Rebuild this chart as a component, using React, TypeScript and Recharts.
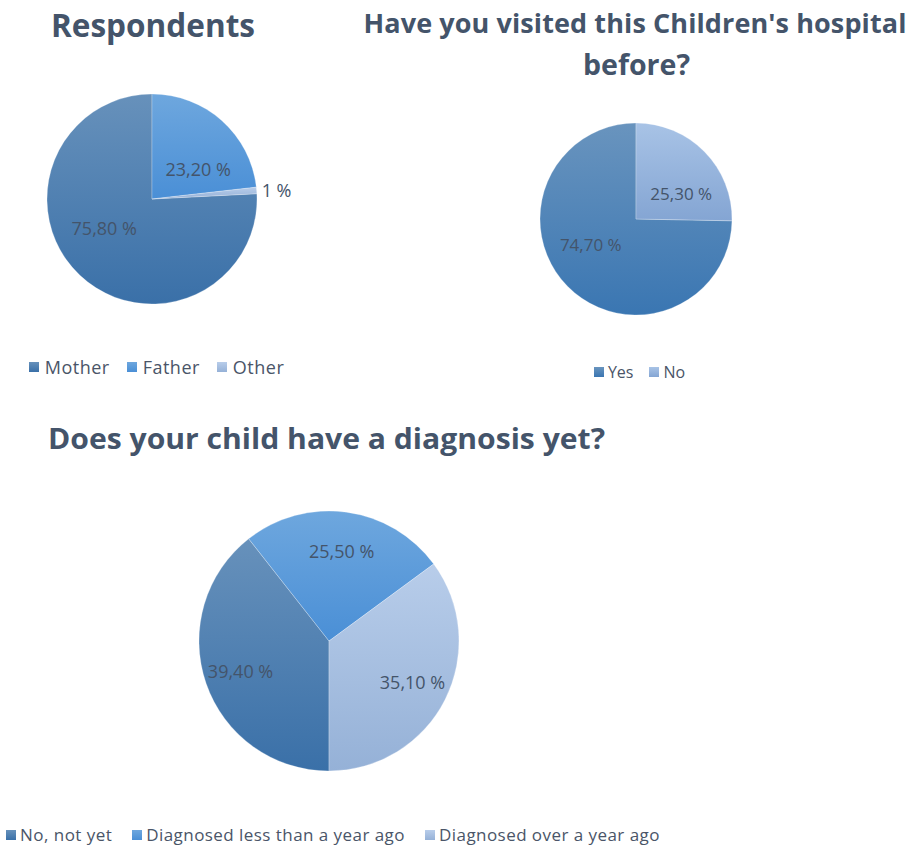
import { Cell, Legend, Pie, PieChart } from "recharts";

const RESPONDENT_NAMES = ["Mother", "Father", "Other"];
const RESPONDENT_VALUES = [75.8, 23.2, 1];

const VISITED_NAMES = ["Yes", "No"];
const VISITED_VALUES = [74.7, 25.3];

const DIAGNOSIS_NAMES = ["No, not yet", "Diagnosed less than a year ago", "Diagnosed over a year ago"];
const DIAGNOSIS_VALUES = [39.4, 25.5, 35.1];

// [top, bottom] gradient stops, Excel "shade" look
const DARK = ["#6791bb", "#3a70a8"];
const MID = ["#6ea7de", "#4a8fd6"];
const LIGHT = ["#b8cdea", "#95b1d7"];
const VISIT_DARK = ["#6994be", "#3a76b2"];
const VISIT_LIGHT = ["#a8c3e6", "#84a5d3"];

const TEXT = "#44546a";
const FONT = "'Open Sans', 'DejaVu Sans', sans-serif";
const RADIAN = Math.PI / 180;

const fmt = (v: number) =>
  Number.isInteger(v) ? `${v} %` : `${v.toFixed(2).replace(".", ",")} %`;

const toRows = (names: string[], values: number[]) =>
  names.map((name, i) => ({ name, value: values[i] }));

function makeLabel(ratio: number, sx: number, sy: number, fontSize: number) {
  return (props: any) => {
    const { cx, cy, midAngle, outerRadius, value, percent } = props;
    const cos = Math.cos(-midAngle * RADIAN);
    const sin = Math.sin(-midAngle * RADIAN);
    if (percent < 0.05) {
      return (
        <text
          x={cx + (outerRadius + 5) * cos}
          y={cy + (outerRadius + 5) * sin}
          fill={TEXT}
          fontSize={fontSize}
          textAnchor="start"
          dominantBaseline="central"
        >
          {fmt(value)}
        </text>
      );
    }
    const r = outerRadius * ratio;
    return (
      <text
        x={cx + r * cos * sx}
        y={cy + r * sin * sy}
        fill={TEXT}
        fontSize={fontSize}
        textAnchor="middle"
        dominantBaseline="central"
      >
        {fmt(value)}
      </text>
    );
  };
}

function Gradients({ id, stops }: { id: string; stops: string[][] }) {
  return (
    <defs>
      {stops.map(([top, bottom], i) => (
        <linearGradient key={i} id={`${id}-${i}`} x1="0" y1="0" x2="0" y2="1">
          <stop offset="0%" stopColor={top} />
          <stop offset="100%" stopColor={bottom} />
        </linearGradient>
      ))}
    </defs>
  );
}

function SwatchLegend({
  names,
  stops,
  fontSize,
  gap,
  spacing = 0,
  swatchGap = 6,
}: {
  names: string[];
  stops: string[][];
  fontSize: number;
  gap: number;
  spacing?: number;
  swatchGap?: number;
}) {
  return (
    <div
      style={{
        display: "flex",
        justifyContent: "center",
        alignItems: "center",
        gap,
        lineHeight: "20px",
        fontSize,
        letterSpacing: spacing,
        color: "#4a5568",
        whiteSpace: "nowrap",
      }}
    >
      {names.map((name, i) => (
        <span key={name} style={{ display: "flex", alignItems: "center" }}>
          <span
            style={{
              width: 10,
              height: 10,
              marginRight: swatchGap,
              background: `linear-gradient(${stops[i][0]}, ${stops[i][1]})`,
            }}
          />
          {name}
        </span>
      ))}
    </div>
  );
}

export default function App() {
  return (
    <div
      style={{
        position: "absolute",
        left: 0,
        top: 0,
        width: 914,
        height: 848,
        background: "#fff",
        fontFamily: FONT,
      }}
    >
      <div style={{ position: "absolute", left: 0, top: 0 }}>
        <PieChart width={320} height={400} margin={{ top: 0, right: 0, bottom: 0, left: 0 }}>
          <Gradients id="resp" stops={[DARK, MID, LIGHT]} />
          <Pie
            data={toRows(RESPONDENT_NAMES, RESPONDENT_VALUES)}
            dataKey="value"
            nameKey="name"
            cx={152}
            cy={199}
            outerRadius={105}
            startAngle={90 - 87.12}
            endAngle={90 - 87.12 - 360}
            stroke="rgba(255,255,255,0.5)"
            strokeWidth={0.5}
            labelLine={false}
            label={makeLabel(0.55, 1.2, 0.7, 18)}
            isAnimationActive={false}
          >
            {RESPONDENT_NAMES.map((n, i) => (
              <Cell key={n} fill={`url(#resp-${i})`} />
            ))}
          </Pie>
          <Legend
            wrapperStyle={{ left: 0, top: 357, width: 313 }}
            content={() => (
              <SwatchLegend names={RESPONDENT_NAMES} stops={[DARK, MID, LIGHT]} fontSize={18} gap={17} spacing={0.5} />
            )}
          />
        </PieChart>
      </div>

      <div style={{ position: "absolute", left: 420, top: 0 }}>
        <PieChart width={494} height={400} margin={{ top: 0, right: 0, bottom: 0, left: 0 }}>
          <Gradients id="visit" stops={[VISIT_DARK, VISIT_LIGHT]} />
          <Pie
            data={toRows(VISITED_NAMES, VISITED_VALUES)}
            dataKey="value"
            nameKey="name"
            cx={216}
            cy={219}
            outerRadius={96}
            startAngle={90 - 91.08}
            endAngle={90 - 91.08 - 360}
            stroke="rgba(255,255,255,0.5)"
            strokeWidth={0.5}
            labelLine={false}
            label={makeLabel(0.55, 1.2, 0.7, 17)}
            isAnimationActive={false}
          >
            {VISITED_NAMES.map((n, i) => (
              <Cell key={n} fill={`url(#visit-${i})`} />
            ))}
          </Pie>
          <Legend
            wrapperStyle={{ left: 0, top: 362, width: 439 }}
            content={() => (
              <SwatchLegend names={VISITED_NAMES} stops={[VISIT_DARK, VISIT_LIGHT]} fontSize={16} gap={16} swatchGap={4} />
            )}
          />
        </PieChart>
      </div>

      <div style={{ position: "absolute", left: 0, top: 400 }}>
        <PieChart width={914} height={448} margin={{ top: 0, right: 0, bottom: 0, left: 0 }}>
          <Gradients id="diag" stops={[DARK, MID, LIGHT]} />
          <Pie
            data={toRows(DIAGNOSIS_NAMES, DIAGNOSIS_VALUES)}
            dataKey="value"
            nameKey="name"
            cx={329}
            cy={241}
            outerRadius={130}
            startAngle={-90}
            endAngle={-450}
            stroke="rgba(255,255,255,0.5)"
            strokeWidth={0.5}
            labelLine={false}
            label={makeLabel(0.72, 1, 0.97, 18)}
            isAnimationActive={false}
          >
            {DIAGNOSIS_NAMES.map((n, i) => (
              <Cell key={n} fill={`url(#diag-${i})`} />
            ))}
          </Pie>
          <Legend
            wrapperStyle={{ left: 0, top: 425, width: 666 }}
            content={() => (
              <SwatchLegend
                names={DIAGNOSIS_NAMES}
                stops={[DARK, MID, LIGHT]}
                fontSize={17}
                gap={20}
                spacing={0.45}
                swatchGap={4}
              />
            )}
          />
        </PieChart>
      </div>

      <svg
        width={914}
        height={848}
        style={{ position: "absolute", left: 0, top: 0, pointerEvents: "none" }}
        fontFamily={FONT}
        fontWeight={700}
        fill={TEXT}
      >
        <text x={153} y={37} fontSize={32} textAnchor="middle" textLength={204} lengthAdjust="spacingAndGlyphs">
          Respondents
        </text>
        <text x={635} y={33} fontSize={27} textAnchor="middle" letterSpacing={0.1}>
          Have you visited this Children's hospital
        </text>
        <text x={636.5} y={75} fontSize={28} textAnchor="middle" textLength={107} lengthAdjust="spacingAndGlyphs">
          before?
        </text>
        <text x={326.5} y={449} fontSize={28} textAnchor="middle" textLength={557} lengthAdjust="spacingAndGlyphs">
          Does your child have a diagnosis yet?
        </text>
      </svg>
    </div>
  );
}
